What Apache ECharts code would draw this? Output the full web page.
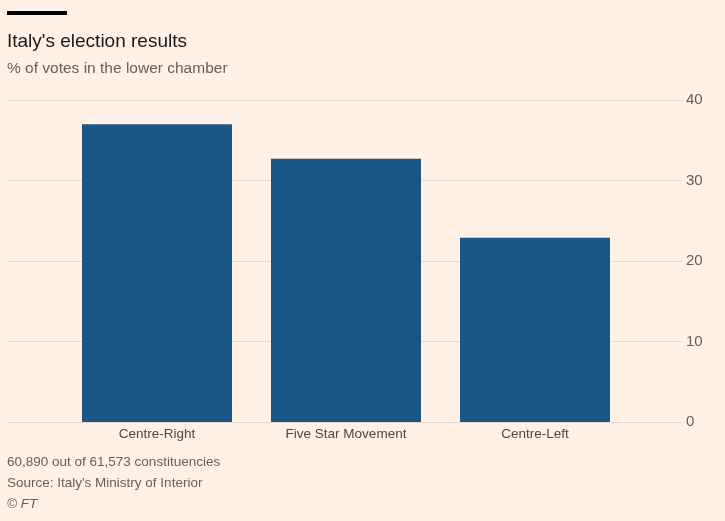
<!DOCTYPE html>
<html>
<head>
<meta charset="utf-8">
<script src="https://cdn.jsdelivr.net/npm/echarts@6/dist/echarts.min.js"></script>
<style>
  html, body { margin: 0; padding: 0; background: #fff1e5; }
  #main { width: 725px; height: 521px; }
</style>
</head>
<body>
<div id="main"></div>
<script>
// data
var categories = ['Centre-Right', 'Five Star Movement', 'Centre-Left'];
var voteShare = [37.0, 32.7, 22.9];
var yTicks = [0, 10, 20, 30, 40];

var font = '"Liberation Sans", sans-serif';
var grey = '#66605c';

var chart = echarts.init(document.getElementById('main'));
var option = {
    backgroundColor: '#fff1e5',
    animation: false,
    title: {
        text: "Italy's election results",
        subtext: '% of votes in the lower chamber',
        left: 7,
        top: 32,
        padding: 0,
        itemGap: 10,
        textStyle: { fontFamily: font, fontSize: 19, fontWeight: 'normal', color: '#1a1817' },
        subtextStyle: { fontFamily: font, fontSize: 15.5, color: grey }
    },
    graphic: [
        { type: 'rect', left: 7, top: 11, shape: { width: 60, height: 4 }, style: { fill: '#000' } },
        { type: 'text', left: 7, top: 455, style: { text: '60,890 out of 61,573 constituencies', font: '13.5px ' + font, fill: grey } },
        { type: 'text', left: 7, top: 476, style: { text: "Source: Italy's Ministry of Interior", font: '13.5px ' + font, fill: grey } },
        { type: 'text', left: 7, top: 497, style: { text: '© FT', font: 'italic 13.5px ' + font, fill: grey } }
    ],
    grid: [
        // gridlines and value labels span the full width
        { left: 8, right: 43, top: 100, bottom: 99 },
        // bars sit in a narrower band
        { left: 62.5, width: 567, top: 100, bottom: 99 }
    ],
    xAxis: [
        { gridIndex: 0, type: 'value', show: false },
        {
            gridIndex: 1,
            type: 'category',
            data: categories,
            axisLine: { show: false },
            axisTick: { show: false },
            axisLabel: { fontFamily: font, fontSize: 13.5, color: '#4d4845', margin: 5 }
        }
    ],
    yAxis: [
        {
            gridIndex: 0,
            type: 'value',
            position: 'right',
            min: 0, max: 40, interval: 10,
            axisLine: { show: false },
            axisTick: { show: false },
            axisLabel: {
                fontFamily: font, fontSize: 15, color: grey, margin: 4,
                formatter: function (v) { return yTicks.indexOf(v) >= 0 ? String(v) : ''; }
            },
            splitLine: { lineStyle: { color: '#e6d9ce', width: 1 } }
        },
        {
            gridIndex: 1,
            type: 'value',
            min: 0, max: 40,
            show: false
        }
    ],
    series: [{
        type: 'bar',
        xAxisIndex: 1,
        yAxisIndex: 1,
        data: voteShare,
        barWidth: 150,
        itemStyle: { color: '#1a5687' },
        silent: true
    }]
};
chart.setOption(option);
window.onresize = chart.resize;
</script>
</body>
</html>
